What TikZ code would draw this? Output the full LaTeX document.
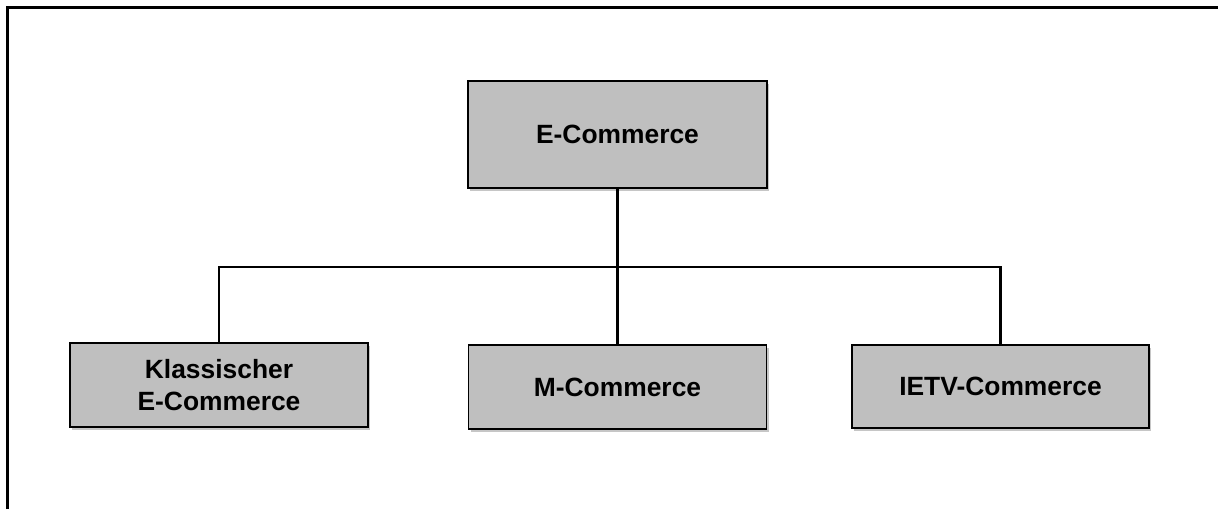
\documentclass[tikz,border=0pt]{standalone}
\usepackage{fontspec}
\setmainfont{Liberation Sans}
\usetikzlibrary{shadows}
\tikzset{
    catbox/.style={draw, line width=0.9pt, fill=black!25!, align=center,
        font=\bfseries\fontsize{13.2}{16}\selectfont,
        drop shadow={shadow xshift=1.2pt, shadow yshift=-1.4pt, opacity=0.45}},
    branch/.style={line width=1.3pt}
}
\begin{document}
\begin{tikzpicture}[x=0.5pt, y=-0.5pt]
\useasboundingbox (0,0) rectangle (1218,509);
\draw[line width=1.5pt](7,509)--(7,7)--(1218,7);

\node[catbox, minimum width=149.5pt, minimum height=
    53.5pt](ecom)at(617.5,134.5){E-Commerce};
\node[catbox, minimum width=149pt, minimum height=
    42pt](klassisch)at(219,385){Klassischer\\E-Commerce};
\node[catbox, minimum width=149pt, minimum height=
    42pt](mcom)at(617.5,387){M-Commerce};
\node[catbox, minimum width=148.5pt, minimum height=
    41.5pt](ietv)at(1000.5,386.5){IETV-Commerce};

%branches
\coordinate(split)at(617.5,267);
\draw[branch](ecom.south)--(split);
\draw[branch](klassisch.north)|-(split)-|(ietv.north);
\draw[branch](split)--(mcom.north);
\end{tikzpicture}
\end{document}
